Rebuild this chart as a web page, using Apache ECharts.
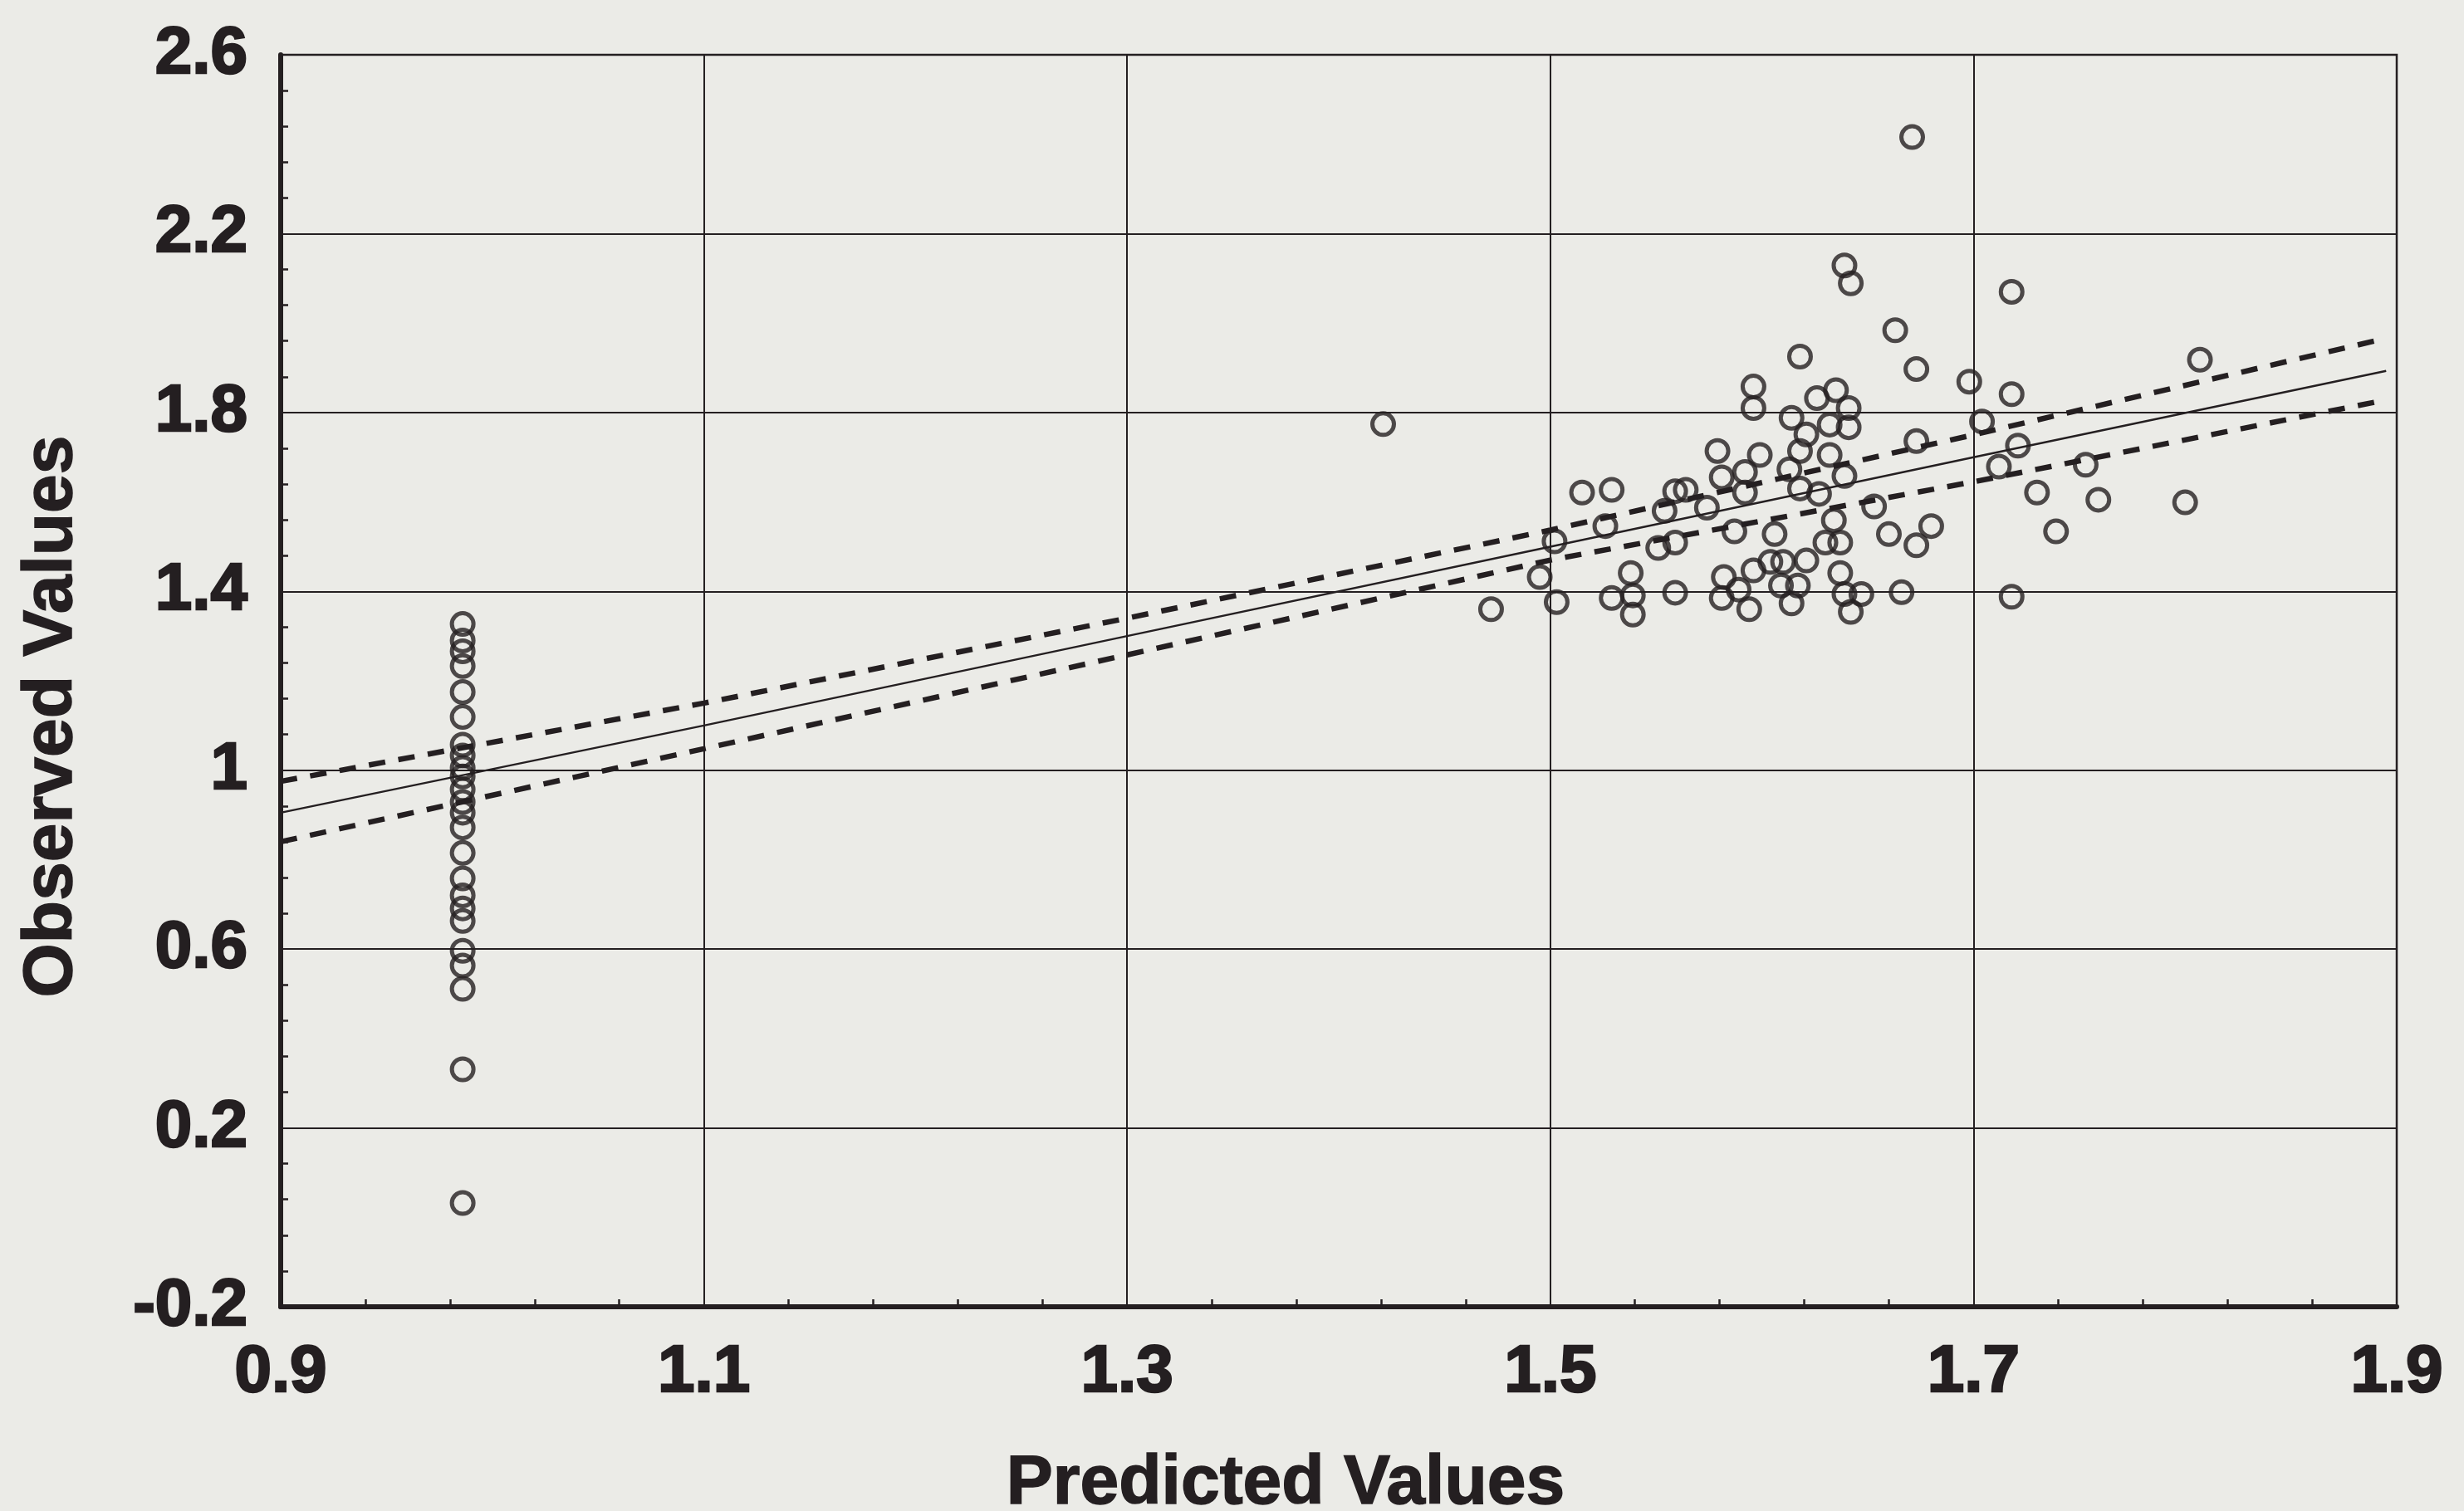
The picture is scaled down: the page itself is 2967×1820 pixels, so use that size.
<!DOCTYPE html>
<html><head><meta charset="utf-8">
<script src="https://cdn.jsdelivr.net/npm/echarts@6/dist/echarts.min.js"></script>
<style>html,body{margin:0;padding:0;background:#ebebe7}#c{width:2967px;height:1820px}</style>
</head><body><div id="c"></div>
<script>
// ---- tick values ----
const xTicks = [0.9, 1.1, 1.3, 1.5, 1.7, 1.9];
const yTicks = [-0.2, 0.2, 0.6, 1.0, 1.4, 1.8, 2.2, 2.6];
const xMinorTicks = [0.94,0.98,1.02,1.06, 1.14,1.18,1.22,1.26, 1.34,1.38,1.42,1.46, 1.54,1.58,1.62,1.66, 1.74,1.78,1.82,1.86];
const yMinorTicks = [-0.12,-0.04,0.04,0.12, 0.28,0.36,0.44,0.52, 0.68,0.76,0.84,0.92, 1.08,1.16,1.24,1.32, 1.48,1.56,1.64,1.72, 1.88,1.96,2.04,2.12, 2.28,2.36,2.44,2.52];

// ---- observations: column of cases predicted at ~0.986 ----
const columnPredicted = 0.986;
const columnObserved = [1.327,1.29,1.266,1.233,1.175,1.119,1.057,1.033,1.005,0.986,0.957,0.929,0.905,0.872,0.815,0.758,0.72,0.691,0.663,0.596,0.563,0.511,0.331,0.032];

// ---- observations: main cluster ----
const clusterPredicted = [1.618,1.596,1.596,1.614,1.626,1.635,1.641,1.632,1.641,1.621,1.618,1.613,1.632,1.639,1.618,1.627,1.579,1.599,1.592,1.581,1.592,1.574,1.559,1.564,1.554,1.515,1.529,1.526,1.502,1.587,1.606,1.551,1.559,1.495,1.503,1.472,1.529,1.538,1.539,1.539,1.559,1.581,1.582,1.589,1.594,1.596,1.604,1.610,1.609,1.617,1.614,1.621,1.630,1.637,1.634,1.637,1.639,1.642,1.647,1.663,1.673,1.698,1.718,1.704,1.673,1.721,1.712,1.753,1.730,1.759,1.800,1.739,1.718,1.653,1.660,1.680,1.673,1.666,1.671,1.639,1.642,1.718,1.807,1.421];
const clusterObserved  = [1.925,1.858,1.810,1.788,1.832,1.850,1.810,1.773,1.767,1.751,1.714,1.673,1.705,1.658,1.630,1.618,1.714,1.705,1.667,1.655,1.621,1.587,1.624,1.627,1.580,1.621,1.627,1.546,1.512,1.534,1.528,1.497,1.509,1.432,1.376,1.360,1.385,1.441,1.391,1.348,1.397,1.385,1.432,1.404,1.360,1.447,1.466,1.466,1.413,1.413,1.373,1.469,1.509,1.509,1.559,1.441,1.394,1.354,1.394,1.984,1.897,1.869,1.841,1.780,1.736,1.726,1.679,1.683,1.621,1.605,1.599,1.534,1.388,1.590,1.528,1.546,1.503,1.398,2.416,2.129,2.089,2.070,1.918,1.774];

// ---- regression line and confidence band ----
const bandX     = [0.9,   1.1,   1.3,   1.5,   1.7,   1.895];
const fitY      = [0.905, 1.100, 1.300, 1.500, 1.700, 1.893];
const upperY    = [0.975, 1.150, 1.340, 1.537, 1.750, 1.966];
const lowerY    = [0.840, 1.048, 1.258, 1.470, 1.645, 1.828];

const ink = '#241f21';
const font = 'Liberation Sans, Arial, sans-serif';

const points = columnObserved.map(v => [columnPredicted, v])
  .concat(clusterPredicted.map((x, i) => [x, clusterObserved[i]]));
const pair = ys => bandX.map((x, i) => [x, ys[i]]);

const tickFont = {fontFamily: font, fontWeight: 'bold', fontSize: 80, color: ink, textBorderColor: ink, textBorderWidth: 2.5};
const titleFont = {fontFamily: font, fontWeight: 'bold', fontSize: 84, color: ink, textBorderColor: ink, textBorderWidth: 1.5};

const chart = echarts.init(document.getElementById('c'), null, {renderer: 'canvas'});
chart.setOption({
  backgroundColor: '#ebebe7',
  animation: false,
  grid: {left: 338, right: 81, top: 66, bottom: 246, containLabel: false, outerBoundsMode: 'none',
         show: true, borderColor: ink, borderWidth: 2.5, backgroundColor: 'transparent'},
  xAxis: [{
    type: 'value', min: 0.9, max: 1.9, position: 'bottom',
    name: 'Predicted Values', nameLocation: 'middle', nameGap: 172,
    nameTextStyle: Object.assign({padding: [0, 128, 0, 0]}, titleFont),
    axisLine: {show: true, onZero: false, lineStyle: {color: ink, width: 6}},
    axisTick: {show: true, inside: true, length: 10, customValues: xTicks, lineStyle: {color: ink, width: 2}},
    axisLabel: Object.assign({customValues: xTicks, margin: 40}, tickFont),
    splitLine: {show: true, lineStyle: {color: ink, width: 2}}
  }, {
    type: 'value', min: 0.9, max: 1.9, position: 'bottom',
    axisLine: {show: false, onZero: false},
    axisTick: {show: true, inside: true, length: 9, customValues: xMinorTicks, lineStyle: {color: ink, width: 2.5}},
    axisLabel: {show: false}, splitLine: {show: false}
  }],
  yAxis: [{
    type: 'value', min: -0.2, max: 2.6, position: 'left',
    name: 'Observed Values', nameLocation: 'middle', nameGap: 233, nameRotate: 90,
    nameTextStyle: Object.assign({padding: [0, 86, 0, 0]}, titleFont),
    axisLine: {show: true, onZero: false, lineStyle: {color: ink, width: 6}},
    axisTick: {show: true, inside: true, length: 10, customValues: yTicks, lineStyle: {color: ink, width: 2}},
    axisLabel: Object.assign({customValues: yTicks, margin: 40}, tickFont),
    splitLine: {show: true, lineStyle: {color: ink, width: 2}}
  }, {
    type: 'value', min: -0.2, max: 2.6, position: 'left',
    axisLine: {show: false, onZero: false},
    axisTick: {show: true, inside: true, length: 9, customValues: yMinorTicks, lineStyle: {color: ink, width: 2.5}},
    axisLabel: {show: false}, splitLine: {show: false}
  }],
  series: [{
    type: 'scatter', data: points, symbol: 'circle', symbolSize: 26,
    itemStyle: {color: 'rgba(0,0,0,0)', borderColor: ink, borderWidth: 5}, z: 3
  }, {
    type: 'line', data: pair(fitY), showSymbol: false, symbol: 'none',
    lineStyle: {color: ink, width: 2.5, type: 'solid'}, z: 4
  }, {
    type: 'line', data: pair(upperY), showSymbol: false, symbol: 'none',
    lineStyle: {color: ink, width: 6.5, type: [20, 16]}, z: 4
  }, {
    type: 'line', data: pair(lowerY), showSymbol: false, symbol: 'none',
    lineStyle: {color: ink, width: 6.5, type: [20, 16]}, z: 4
  }]
});
</script></body></html>
